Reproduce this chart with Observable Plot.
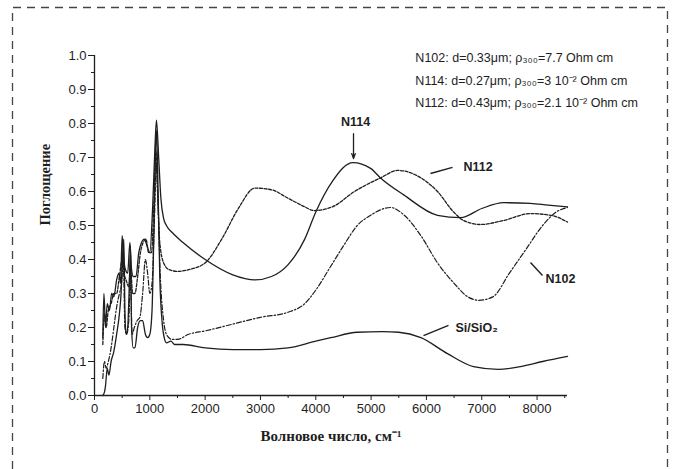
<!DOCTYPE html>
<html>
<head>
<meta charset="utf-8">
<script src="https://cdn.jsdelivr.net/npm/d3@7"></script>
<script src="https://cdn.jsdelivr.net/npm/@observablehq/plot@0.6"></script>
<style>
  html, body { margin: 0; padding: 0; background: #fff; }
  #chart { width: 675px; height: 469px; }
</style>
</head>
<body>
<div id="chart"></div>
<script>
// ---- data (wavenumber cm^-1, absorption) ----
const siSiO2 = [[150,0.0],[180,0.01],[200,0.03],[230,0.08],[260,0.06],[300,0.1],[350,0.13],[400,0.18],[450,0.24],[480,0.3],[510,0.42],[530,0.46],[550,0.25],[570,0.18],[600,0.2],[630,0.33],[650,0.44],[670,0.2],[700,0.14],[730,0.14],[780,0.2],[830,0.22],[870,0.22],[920,0.18],[960,0.17],[1000,0.18],[1040,0.25],[1070,0.45],[1100,0.7],[1120,0.78],[1150,0.6],[1180,0.35],[1220,0.22],[1260,0.17],[1300,0.155],[1380,0.16],[1450,0.15],[1600,0.15],[2000,0.14],[2500,0.135],[3000,0.135],[3500,0.14],[4000,0.16],[4270,0.17],[4750,0.186],[5200,0.188],[5500,0.186],[5900,0.17],[6380,0.123],[6850,0.085],[7300,0.077],[7700,0.085],[8100,0.1],[8550,0.115]];

const n114 = [[150,0.17],[170,0.3],[200,0.2],[230,0.27],[270,0.25],[310,0.3],[350,0.29],[400,0.34],[440,0.36],[470,0.33],[500,0.47],[530,0.4],[560,0.37],[600,0.36],[640,0.45],[670,0.37],[700,0.35],[750,0.35],[800,0.42],[850,0.45],[900,0.46],[950,0.44],[1000,0.42],[1050,0.55],[1090,0.72],[1120,0.81],[1160,0.7],[1200,0.58],[1250,0.52],[1300,0.5],[1400,0.48],[1600,0.45],[2000,0.4],[2500,0.355],[2900,0.34],[3200,0.35],[3500,0.385],[3800,0.46],[4000,0.54],[4300,0.63],[4670,0.685],[4990,0.668],[5170,0.64],[5590,0.59],[6200,0.53],[6620,0.523],[7000,0.55],[7400,0.567],[7880,0.565],[8200,0.56],[8550,0.555]];

const n112 = [[150,0.15],[180,0.24],[210,0.2],[250,0.25],[300,0.27],[350,0.3],[400,0.3],[450,0.35],[500,0.4],[530,0.36],[570,0.34],[620,0.32],[650,0.38],[690,0.3],[730,0.3],[780,0.35],[830,0.42],[880,0.45],[930,0.46],[980,0.42],[1030,0.42],[1070,0.55],[1110,0.72],[1140,0.6],[1180,0.45],[1250,0.39],[1350,0.37],[1500,0.365],[1700,0.37],[2000,0.39],[2300,0.46],[2600,0.55],[2900,0.61],[3200,0.605],[3500,0.58],[3800,0.555],[3960,0.544],[4300,0.555],[4700,0.6],[5170,0.64],[5480,0.662],[5900,0.64],[6200,0.6],[6490,0.54],[6670,0.515],[6980,0.503],[7400,0.515],[7880,0.535],[8250,0.53],[8550,0.51]];

const n102 = [[150,0.05],[180,0.1],[210,0.08],[250,0.1],[300,0.14],[350,0.2],[400,0.26],[450,0.3],[490,0.33],[520,0.4],[550,0.2],[580,0.18],[620,0.22],[650,0.36],[680,0.18],[720,0.2],[770,0.22],[820,0.23],[870,0.3],[920,0.4],[960,0.36],[1000,0.3],[1040,0.33],[1080,0.5],[1120,0.68],[1150,0.55],[1190,0.35],[1250,0.22],[1300,0.18],[1400,0.165],[1500,0.165],[1700,0.18],[2000,0.19],[2500,0.21],[3000,0.23],[3500,0.245],[3800,0.27],[4000,0.31],[4270,0.38],[4500,0.44],[4750,0.5],[4990,0.53],[5350,0.553],[5600,0.53],[5900,0.47],[6200,0.39],[6500,0.33],[6750,0.29],[6950,0.28],[7200,0.29],[7500,0.36],[7800,0.43],[8100,0.5],[8350,0.54],[8550,0.553]];

const xTicks = [0,1000,2000,3000,4000,5000,6000,7000,8000];
const xMinorTicks = [500,1500,2500,3500,4500,5500,6500,7500,8500];
const yTicks = [0,0.1,0.2,0.3,0.4,0.5,0.6,0.7,0.8,0.9,1.0];
const yMinorTicks = [0.05,0.15,0.25,0.35,0.45,0.55,0.65,0.75,0.85,0.95];

const xLabel = "Волновое число, см\u207B\u00B9";
const yLabel = "Поглощение";

const legendLines = [
  "N102: d=0.33μm; ρ\u2083\u2080\u2080=7.7 Ohm cm",
  "N114: d=0.27μm; ρ\u2083\u2080\u2080=3 10\u207B\u00B2 Ohm cm",
  "N112: d=0.43μm; ρ\u2083\u2080\u2080=2.1 10\u207B\u00B2 Ohm cm"
];
const legendX = 5800;
const legendY = [0.994, 0.924, 0.859];

const centerLabels = [{text: "N114", x: 4718, y: 0.803}];
const startLabels = [
  {text: "N112", x: 6670, y: 0.673},
  {text: "N102", x: 8152, y: 0.344},
  {text: "Si/SiO\u2082", x: 6525, y: 0.2}
];
const pointerLines = [
  {x1: 6471, y1: 0.671, x2: 6074, y2: 0.653},
  {x1: 7881, y1: 0.391, x2: 8098, y2: 0.353},
  {x1: 6399, y1: 0.206, x2: 5947, y2: 0.176}
];
const arrowN114 = [{x1: 4682, y1: 0.77, x2: 4682, y2: 0.697}];

const toRows = (arr) => arr.map(([x, y]) => ({x, y}));
const ink = "#1e1e1e";

const chart = Plot.plot({
  width: 675,
  height: 469,
  marginLeft: 94,
  marginRight: 108,
  marginTop: 55,
  marginBottom: 74,
  style: {fontFamily: "'Liberation Sans', Arial, sans-serif", fontSize: "13px", color: ink, background: "#fff"},
  x: {domain: [0, 8550]},
  y: {domain: [0, 1]},
  marks: [
    Plot.ruleX([0], {stroke: ink, strokeWidth: 1.3}),
    Plot.ruleY([0], {stroke: ink, strokeWidth: 1.3}),
    Plot.axisX({ticks: xTicks, tickSize: 5, tickPadding: 3, tickFormat: d => String(d), stroke: ink, fill: ink, label: null}),
    Plot.axisX({ticks: xMinorTicks, tickSize: 3, tickFormat: () => "", stroke: ink, label: null}),
    Plot.axisY({ticks: yTicks, tickSize: 6, tickPadding: 2, tickFormat: d => d.toFixed(1), stroke: ink, fill: ink, label: null}),
    Plot.axisY({ticks: yMinorTicks, tickSize: 3, tickFormat: () => "", stroke: ink, label: null}),
    Plot.line(toRows(siSiO2), {x: "x", y: "y", stroke: ink, strokeWidth: 1.3, curve: "monotone-x"}),
    Plot.line(toRows(n114), {x: "x", y: "y", stroke: ink, strokeWidth: 1.3, curve: "monotone-x"}),
    Plot.line(toRows(n112), {x: "x", y: "y", stroke: ink, strokeWidth: 1.3, strokeDasharray: "3,1.6", curve: "monotone-x"}),
    Plot.line(toRows(n102), {x: "x", y: "y", stroke: ink, strokeWidth: 1.2, strokeDasharray: "5,2,1.5,2", curve: "monotone-x"}),
    Plot.text(legendLines, {x: () => legendX, y: (d, i) => legendY[i], text: d => d, textAnchor: "start", fontSize: 12.5, fill: ink}),
    Plot.text(centerLabels, {x: "x", y: "y", text: "text", textAnchor: "middle", fontSize: 12.5, fontWeight: "bold", fill: ink}),
    Plot.text(startLabels, {x: "x", y: "y", text: "text", textAnchor: "start", fontSize: 12.5, fontWeight: "bold", fill: ink}),
    Plot.link(pointerLines, {x1: "x1", y1: "y1", x2: "x2", y2: "y2", stroke: ink, strokeWidth: 1.4}),
    Plot.arrow(arrowN114, {x1: "x1", y1: "y1", x2: "x2", y2: "y2", stroke: ink, strokeWidth: 1.3, headLength: 6, headAngle: 40}),
    Plot.text([xLabel], {frameAnchor: "bottom", dy: 45, text: d => d, fontFamily: "'Liberation Serif', 'Times New Roman', serif", fontWeight: "bold", fontSize: 15, fill: ink}),
    Plot.text([yLabel], {frameAnchor: "left", dx: -49, rotate: -90, text: d => d, fontFamily: "'Liberation Serif', 'Times New Roman', serif", fontWeight: "bold", fontSize: 14.5, fill: ink})
  ]
});

document.getElementById("chart").appendChild(chart);

// dashed page border (decoration)
d3.select(chart).append("path")
  .attr("d", "M12.5,469 V7.5 H667.5 V469")
  .attr("fill", "none")
  .attr("stroke", "#444")
  .attr("stroke-width", 1.3)
  .attr("stroke-dasharray", "8,6");
</script>
</body>
</html>
